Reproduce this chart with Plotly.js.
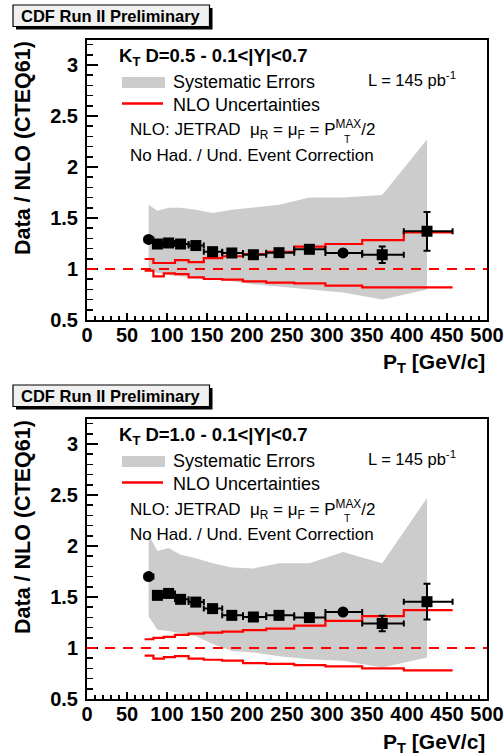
<!DOCTYPE html>
<html>
<head>
<meta charset="utf-8">
<script src="https://cdn.plot.ly/plotly-3.0.1.min.js"></script>
<style>html,body{margin:0;padding:0;background:#fff;}#chart{width:504px;height:755px;}</style>
</head>
<body>
<div id="chart"></div>
<script>
// ---------------- data ----------------
const ptCenters = [77, 88, 102, 117, 136, 157, 181, 208, 240, 278, 320, 369, 425];
const binLow   = [72, 83, 96, 110, 127, 146, 169, 195, 224, 259, 298, 344, 396];
const binHigh  = [83, 96, 110, 127, 146, 169, 195, 224, 259, 298, 344, 396, 457];
const nloEdges = [72, 83, 96, 110, 127, 146, 169, 195, 224, 259, 298, 344, 396, 457];

// panel 1: D=0.5
const ratioD05   = [1.29, 1.245, 1.255, 1.245, 1.23, 1.17, 1.157, 1.14, 1.16, 1.193, 1.157, 1.14, 1.37];
const statErrD05 = [0.01, 0.01, 0.01, 0.01, 0.01, 0.01, 0.012, 0.015, 0.02, 0.025, 0.03, 0.08, 0.19];
const sysUpD05   = [1.63, 1.57, 1.60, 1.60, 1.58, 1.55, 1.58, 1.60, 1.63, 1.70, 1.70, 1.725, 2.27];
const sysLoD05   = [0.98, 0.96, 0.94, 0.93, 0.92, 0.90, 0.88, 0.85, 0.82, 0.80, 0.77, 0.70, 0.80];
const nloUpD05   = [1.098, 1.059, 1.059, 1.087, 1.068, 1.106, 1.125, 1.147, 1.168, 1.219, 1.245, 1.284, 1.36];
const nloLoD05   = [0.984, 0.928, 0.958, 0.95, 0.918, 0.902, 0.895, 0.879, 0.866, 0.86, 0.837, 0.82, 0.82];

// panel 2: D=1.0
const ratioD10   = [1.70, 1.516, 1.535, 1.477, 1.45, 1.386, 1.32, 1.304, 1.32, 1.298, 1.353, 1.24, 1.454];
const statErrD10 = [0.01, 0.01, 0.01, 0.01, 0.01, 0.01, 0.012, 0.015, 0.02, 0.025, 0.03, 0.077, 0.175];
const sysUpD10   = [2.11, 1.95, 1.98, 1.915, 1.88, 1.83, 1.79, 1.78, 1.83, 1.83, 1.94, 1.83, 2.47];
const sysLoD10   = [1.31, 1.18, 1.167, 1.145, 1.118, 1.04, 0.97, 0.956, 0.92, 0.89, 0.874, 0.81, 0.907];
const nloUpD10   = [1.086, 1.10, 1.11, 1.128, 1.14, 1.15, 1.16, 1.175, 1.19, 1.22, 1.265, 1.313, 1.372];
const nloLoD10   = [0.925, 0.895, 0.91, 0.92, 0.895, 0.885, 0.877, 0.852, 0.845, 0.832, 0.82, 0.80, 0.78];

const xTickVals = [0, 50, 100, 150, 200, 250, 300, 350, 400, 450, 500];
const yTickVals = [0.5, 1, 1.5, 2, 2.5, 3];
const panelLabels = ['D=0.5', 'D=1.0'];

// ---------------- style / geometry ----------------
const FONT = 'Liberation Sans, Arial, Helvetica, sans-serif';
const markerSymbols = ['circle','square','square','square','square','square','square','square','square','square','circle','square','square'];
const L = 87, R = 487, T = 40, B = 699;
function X(px){ return (px - L) / (R - L); }
function Y(py){ return (B - py) / (B - T); }

function panelTraces(xa, ya, ratio, err, sUp, sLo, nUp, nLo){
  const bandX = ptCenters.concat(ptCenters.slice().reverse());
  const bandY = sUp.concat(sLo.slice().reverse());
  const stepX = nloEdges;
  const upY = nUp.concat([nUp[nUp.length-1]]);
  const loY = nLo.concat([nLo[nLo.length-1]]);
  return [
    {type:'scatter', mode:'lines', x:bandX, y:bandY, fill:'toself', fillcolor:'#cccccc',
     line:{width:0, color:'#cccccc'}, xaxis:xa, yaxis:ya, hoverinfo:'skip'},
    {type:'scatter', mode:'lines', x:stepX, y:upY, line:{shape:'hv', color:'#ff0000', width:2.2},
     xaxis:xa, yaxis:ya},
    {type:'scatter', mode:'lines', x:stepX, y:loY, line:{shape:'hv', color:'#ff0000', width:2.2},
     xaxis:xa, yaxis:ya},
    {type:'scatter', mode:'markers', x:ptCenters, y:ratio, xaxis:xa, yaxis:ya,
     marker:{symbol:markerSymbols, size:11, color:'black', line:{width:0}},
     error_y:{type:'data', array:err, visible:true, color:'black', thickness:2, width:3.5},
     error_x:{type:'data', symmetric:false,
              array:ptCenters.map((c,i)=>binHigh[i]-c),
              arrayminus:ptCenters.map((c,i)=>c-binLow[i]),
              visible:true, color:'black', thickness:2, width:3}}
  ];
}

const data = [].concat(
  panelTraces('x','y', ratioD05, statErrD05, sysUpD05, sysLoD05, nloUpD05, nloLoD05),
  panelTraces('x2','y2', ratioD10, statErrD10, sysUpD10, sysLoD10, nloUpD10, nloLoD10)
);

function xAxis(anchor){
  return {
    anchor:anchor, domain:[0,1], range:[0,500], showline:true, linecolor:'black', linewidth:2, mirror:true,
    ticks:'inside', ticklen:7, tickwidth:2, tickcolor:'black', tickvals:xTickVals,
    minor:{dtick:10, tick0:0, ticks:'inside', ticklen:4, tickwidth:1.5, tickcolor:'black'},
    showgrid:false, zeroline:false, ticklabelstandoff:-4,
    tickfont:{family:FONT, size:20, weight:'bold', color:'black'}
  };
}
function yAxis(anchor, dom){
  return {
    anchor:anchor, domain:dom, range:[0.5, 3.245], showline:true, linecolor:'black', linewidth:2, mirror:true,
    ticks:'inside', ticklen:11, tickwidth:2, tickcolor:'black', tickvals:yTickVals,
    minor:{dtick:0.1, tick0:0.5, ticks:'inside', ticklen:6, tickwidth:1.5, tickcolor:'black'},
    showgrid:false, zeroline:false, ticklabelstandoff:3,
    tickfont:{family:FONT, size:20, weight:'bold', color:'black'}
  };
}

const shapes = [];
const annotations = [];

function addPanelDecor(off, boxOff, label, ya){
  // CDF box (shadow + box)
  shapes.push({type:'rect', xref:'paper', yref:'paper', x0:X(16), x1:X(212.5), y0:Y(8+boxOff), y1:Y(29.5+boxOff),
               fillcolor:'black', line:{width:0}, layer:'above'});
  shapes.push({type:'rect', xref:'paper', yref:'paper', x0:X(13), x1:X(209.5), y0:Y(5+boxOff), y1:Y(26.5+boxOff),
               fillcolor:'#f0f0f0', line:{width:1.2, color:'black'}, layer:'above'});
  annotations.push({xref:'paper', yref:'paper', x:X(111), y:Y(16+boxOff), xanchor:'center', yanchor:'middle',
    text:'<b>CDF Run II Preliminary</b>', showarrow:false, font:{family:FONT, size:16.5, color:'black'}});
  // dashed reference line at 1
  shapes.push({type:'line', xref:(ya==='y'?'x':'x2'), yref:ya, x0:0, x1:500, y0:1, y1:1,
               line:{color:'#ff0000', width:2, dash:'10px,8px'}, layer:'above'});
  // legend swatches
  shapes.push({type:'rect', xref:'paper', yref:'paper', x0:X(122), x1:X(165), y0:Y(77+off), y1:Y(88+off),
               fillcolor:'#cccccc', line:{width:0}, layer:'above'});
  shapes.push({type:'line', xref:'paper', yref:'paper', x0:X(122), x1:X(163), y0:Y(103.5+off), y1:Y(103.5+off),
               line:{color:'#ff0000', width:2.5}, layer:'above'});
  const t = (txt, px, py, size, anchor) => annotations.push({xref:'paper', yref:'paper', x:X(px), y:Y(py+off),
    xanchor:anchor||'left', yanchor:'middle', text:txt, showarrow:false, font:{family:FONT, size:size, color:'black'}});
  t('<b>K<sub>T</sub> ' + label + ' - 0.1&lt;|Y|&lt;0.7</b>', 117, 57, 18.5);
  t('Systematic Errors', 170.5, 82, 18);
  t('NLO Uncertainties', 170.5, 104.5, 18);
  t('L = 145 pb<sup>-1</sup>', 366, 79, 16.5);
  t('NLO: JETRAD  \u03bc<sub>R</sub> = \u03bc<sub>F</sub> = P<sup>MAX</sup>/2', 128, 130, 17);
  t('T', 347, 139, 10.5, 'center');
  t('No Had. / Und. Event Correction', 128, 155, 17);
}

addPanelDecor(0, 0, panelLabels[0], 'y');
addPanelDecor(379, 380, panelLabels[1], 'y2');

// axis titles
[[0,0],[379,380]].forEach(([off, toff]) => {
  annotations.push({xref:'paper', yref:'paper', x:X(487), y:Y(363+toff), xanchor:'right', yanchor:'middle',
    text:'<b>P<sub>T</sub> [GeV/c]</b>', showarrow:false, font:{family:FONT, size:21, color:'black'}});
  annotations.push({xref:'paper', yref:'paper', x:X(23), y:Y(39+off), xanchor:'center', yanchor:'top', textangle:-90,
    text:'<b>Data / NLO (CTEQ61)</b>', showarrow:false, font:{family:FONT, size:21.5, color:'black'}});
});

const layout = {
  width:504, height:755, margin:{l:L, r:504-R, t:T, b:755-B}, showlegend:false,
  paper_bgcolor:'white', plot_bgcolor:'white',
  xaxis:xAxis('y'), yaxis:yAxis('x', [Y(320), 1]),
  xaxis2:xAxis('y2'), yaxis2:yAxis('x2', [0, Y(419)]),
  shapes:shapes, annotations:annotations
};

Plotly.newPlot('chart', data, layout, {displayModeBar:false, staticPlot:true});
</script>
</body>
</html>
